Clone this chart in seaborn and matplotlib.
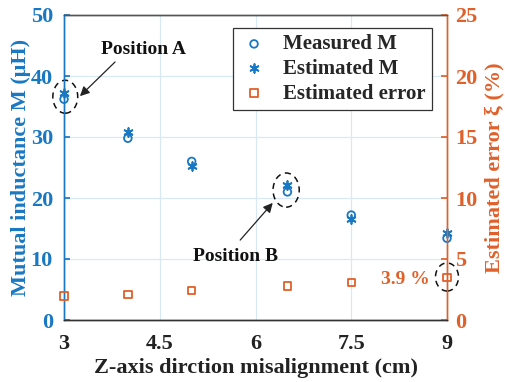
import matplotlib
matplotlib.use("Agg")
import matplotlib.pyplot as plt
from matplotlib.patches import Ellipse
import seaborn as sns
import pandas as pd

x_vals = [3, 4, 5, 6.5, 7.5, 9]
measured_m = [36.2, 29.8, 26.0, 21.0, 17.2, 13.4]
estimated_m = [37.2, 30.8, 25.2, 22.1, 16.5, 14.2]
est_error = [1.97, 2.1, 2.4, 2.8, 3.1, 3.5]
x_ticks = [3, 4.5, 6, 7.5, 9]
x_tick_labels = ["3", "4.5", "6", "7.5", "9"]
left_ticks = [0, 10, 20, 30, 40, 50]
right_ticks = [0, 5, 10, 15, 20, 25]

BLUE = "#1a78c2"
ORANGE = "#e0602a"

sns.set_theme(style="white")
plt.rcParams["font.family"] = ["Liberation Serif", "DejaVu Serif"]
plt.rcParams["font.weight"] = "bold"
plt.rcParams["axes.labelweight"] = "bold"

df = pd.DataFrame({"x": x_vals, "meas": measured_m, "est": estimated_m, "err": est_error})

fig = plt.figure(figsize=(5.05, 3.82), dpi=100)
ax = fig.add_axes([64 / 505, 1 - 320 / 382, (447 - 64) / 505, (320 - 15) / 382])
ax2 = ax.twinx()

sns.scatterplot(data=df, x="x", y="meas", ax=ax, marker="o", s=30,
                facecolor="none", edgecolor=BLUE, linewidth=1.3, label="Measured M", zorder=5)
sns.scatterplot(data=df, x="x", y="est", ax=ax, marker=(6, 2, 0), s=40,
                color=BLUE, edgecolor=BLUE, linewidth=1.3, label="Estimated M", zorder=5)
sns.scatterplot(data=df, x="x", y="err", ax=ax2, marker="s", s=28,
                facecolor="none", edgecolor=ORANGE, linewidth=1.3, label="Estimated error", zorder=5)
for c in ax.collections + ax2.collections:
    c.set_clip_on(False)

ax.set_xlim(3, 9)
ax.set_ylim(0, 50)
ax2.set_ylim(0, 25)
ax.set_xticks(x_ticks)
ax.set_xticklabels(x_tick_labels)
ax.set_yticks(left_ticks)
ax2.set_yticks(right_ticks)

ax.grid(True, color="#d8e8f4", linewidth=0.9)
ax.set_axisbelow(True)

ax.tick_params(axis="x", direction="in", length=4, labelsize=16, colors="#222222", pad=10)
ax.tick_params(axis="y", direction="in", length=4, labelsize=16, colors=BLUE, pad=8)
ax2.tick_params(axis="y", direction="in", length=4, labelsize=16, colors=ORANGE, pad=6)
for lab in ax.get_xticklabels() + ax.get_yticklabels() + ax2.get_yticklabels():
    lab.set_fontweight("bold")

ax.set_xlabel("Z-axis dirction misalignment (cm)", fontsize=16, fontweight="bold", color="#222222", labelpad=3)
ax.set_ylabel("Mutual inductance M (\u03bcH)", fontsize=16, fontweight="bold", color=BLUE, labelpad=0)
ax2.set_ylabel("Estimated error \u03be (%)", fontsize=16, fontweight="bold", color=ORANGE, labelpad=5)

for a in (ax, ax2):
    a.spines["left"].set_color(BLUE)
    a.spines["right"].set_color(ORANGE)
    a.spines["top"].set_color("#555555")
    a.spines["bottom"].set_color("#333333")
    for s in a.spines.values():
        s.set_linewidth(1.0)
ax2.set_xlabel("")

# legend
h1, l1 = ax.get_legend_handles_labels()
h2, l2 = ax2.get_legend_handles_labels()
if ax.get_legend():
    ax.get_legend().remove()
if ax2.get_legend():
    ax2.get_legend().remove()
leg = ax2.legend(h1 + h2, l1 + l2, loc="upper right", bbox_to_anchor=(0.961, 0.957),
                 borderaxespad=0, fancybox=False, edgecolor="#333333", framealpha=1,
                 prop={"family": "Liberation Serif", "weight": "bold", "size": 15},
                 handletextpad=0.7, labelspacing=0.22, borderpad=0.3, handlelength=1.4)
leg.get_frame().set_linewidth(0.9)

# ellipses
for (cx, cy, w, h) in [(3.02, 36.6, 0.39, 5.4), (6.48, 21.3, 0.41, 5.6), (9.0, 7.05, 0.36, 4.6)]:
    e = Ellipse((cx, cy), w, h, fill=False, linestyle=(0, (4, 3)), edgecolor="#111111",
                linewidth=1.1, clip_on=False, zorder=6)
    ax.add_patch(e)

# annotations
arrow = dict(arrowstyle="-|>", color="#222222", lw=0.9, mutation_scale=14, shrinkA=0, shrinkB=0)
ax.annotate("", xy=(3.25, 36.7), xytext=(3.80, 42.3), arrowprops=arrow, zorder=7)
ax.text(4.24, 44.3, "Position A", fontsize=14, fontweight="bold", ha="center", va="center", color="#111111")
ax.annotate("", xy=(6.27, 19.2), xytext=(5.76, 13.1), arrowprops=arrow, zorder=7)
ax.text(5.68, 10.4, "Position B", fontsize=14, fontweight="bold", ha="center", va="center", color="#111111")
ax.text(8.73, 6.7, "3.9 %", fontsize=14, fontweight="bold", ha="right", va="center", color=ORANGE)

fig.savefig("out.png", dpi=100)
